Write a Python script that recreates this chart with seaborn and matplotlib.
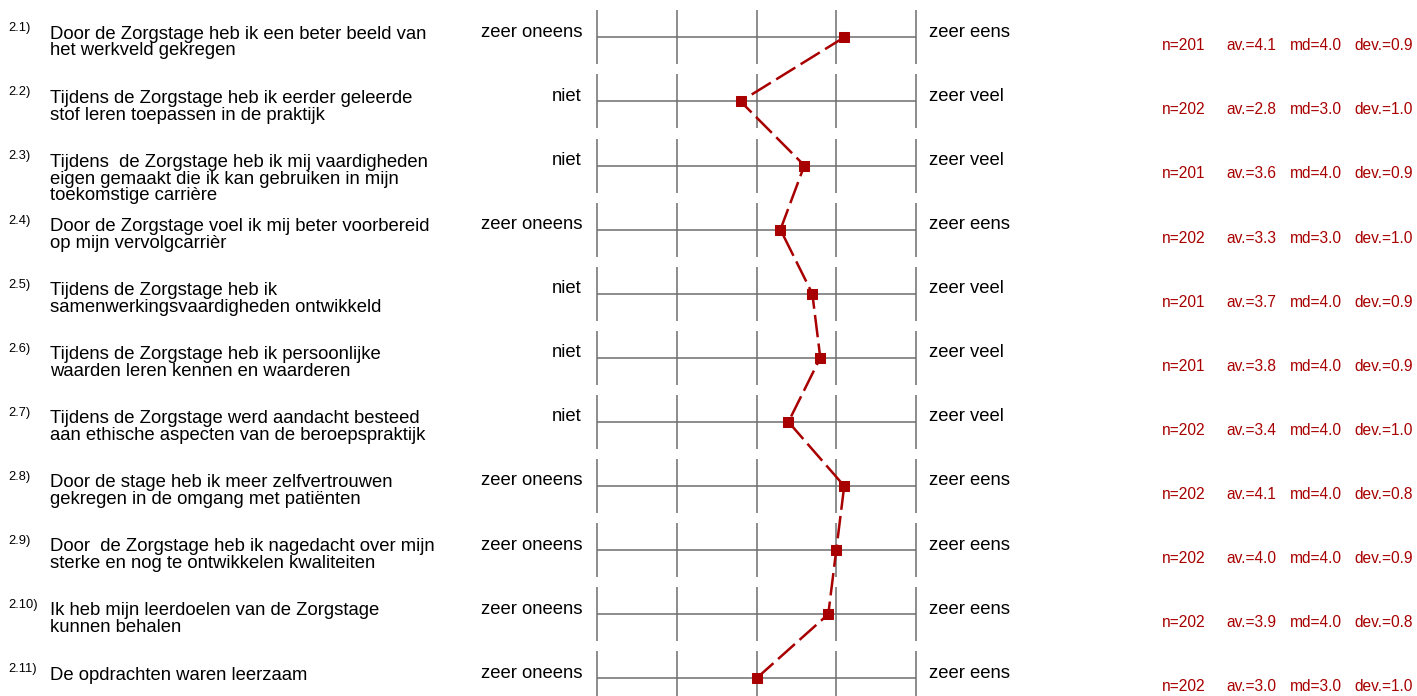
import pandas as pd
import matplotlib.pyplot as plt
import seaborn as sns

sns.set_theme(style="white")
plt.rcParams["font.family"] = ["Liberation Sans", "DejaVu Sans"]
plt.rcParams["text.color"] = "black"

RED = "#A80000"
GREY = "#6E6E6E"

# ------------------------------------------------------------------
# data
# ------------------------------------------------------------------
numbers = ["2.1)", "2.2)", "2.3)", "2.4)", "2.5)", "2.6)", "2.7)", "2.8)", "2.9)", "2.10)", "2.11)"]
questions = [
    "Door de Zorgstage heb ik een beter beeld van\nhet werkveld gekregen",
    "Tijdens de Zorgstage heb ik eerder geleerde\nstof leren toepassen in de praktijk",
    "Tijdens  de Zorgstage heb ik mij vaardigheden\neigen gemaakt die ik kan gebruiken in mijn\ntoekomstige carrière",
    "Door de Zorgstage voel ik mij beter voorbereid\nop mijn vervolgcarrièr",
    "Tijdens de Zorgstage heb ik\nsamenwerkingsvaardigheden ontwikkeld",
    "Tijdens de Zorgstage heb ik persoonlijke\nwaarden leren kennen en waarderen",
    "Tijdens de Zorgstage werd aandacht besteed\naan ethische aspecten van de beroepspraktijk",
    "Door de stage heb ik meer zelfvertrouwen\ngekregen in de omgang met patiënten",
    "Door  de Zorgstage heb ik nagedacht over mijn\nsterke en nog te ontwikkelen kwaliteiten",
    "Ik heb mijn leerdoelen van de Zorgstage\nkunnen behalen",
    "De opdrachten waren leerzaam",
]
left_anchor = ["zeer oneens", "niet", "niet", "zeer oneens", "niet", "niet", "niet",
               "zeer oneens", "zeer oneens", "zeer oneens", "zeer oneens"]
right_anchor = ["zeer eens", "zeer veel", "zeer veel", "zeer eens", "zeer veel", "zeer veel", "zeer veel",
                "zeer eens", "zeer eens", "zeer eens", "zeer eens"]
n_resp = [201, 202, 201, 202, 201, 201, 202, 202, 202, 202, 202]
av = [4.1, 2.8, 3.6, 3.3, 3.7, 3.8, 3.4, 4.1, 4.0, 3.9, 3.0]
md = [4.0, 3.0, 4.0, 3.0, 4.0, 4.0, 4.0, 4.0, 4.0, 4.0, 3.0]
dev = [0.9, 1.0, 0.9, 1.0, 0.9, 0.9, 1.0, 0.8, 0.9, 0.8, 1.0]
scale_points = [1, 2, 3, 4, 5]

df = pd.DataFrame({"row": range(len(av)), "av": av})

# ------------------------------------------------------------------
# layout: one axes over the whole figure, x in scale units, y in rows
# ------------------------------------------------------------------
W, H = 1417, 696
X0, XU = 597, 79.75      # pixel of scale point 1, pixels per scale unit
Y0, YU = 37.3, 64.1      # pixel of first row, pixels per row


def sx(px):
    return 1 + (px - X0) / XU


fig = plt.figure(figsize=(W / 100, H / 100), dpi=100)
ax = fig.add_axes([0, 0, 1, 1])

half = 27 / YU
for i in df["row"]:
    ax.hlines(i, 1, 5, color=GREY, lw=1.1, zorder=1)
    ax.vlines(scale_points, i - half, i + half, color=GREY, lw=1.1, zorder=1)

sns.lineplot(data=df, x="av", y="row", sort=False, estimator=None, ax=ax,
             color=RED, lw=1.8, ls=(0, (9, 2.5)), marker="s", ms=6.5,
             mec=RED, mfc=RED, zorder=3)
ax.set_xlim(sx(0), sx(W))
ax.set_ylim((H - Y0) / YU, -Y0 / YU)
ax.axis("off")

for i in df["row"]:
    ax.text(sx(8), i - 6 / YU, numbers[i], fontsize=9.3, va="baseline", ha="left")
    for k, line in enumerate(questions[i].split("\n")):
        ax.text(sx(50), i + (1.3 + 16.8 * k) / YU, line, fontsize=13.3, va="baseline", ha="left")
    ax.text(sx(582), i - 0.5 / YU, left_anchor[i], fontsize=13.3, va="baseline", ha="right")
    ax.text(sx(929), i - 0.5 / YU, right_anchor[i], fontsize=13.3, va="baseline", ha="left")
    yb = i + 13 / YU
    ax.text(sx(1162), yb, f"n={n_resp[i]}", fontsize=11.2, color=RED, va="baseline")
    ax.text(sx(1226), yb, f"av.={av[i]:.1f}", fontsize=11.2, color=RED, va="baseline")
    ax.text(sx(1290), yb, f"md={md[i]:.1f}", fontsize=11.2, color=RED, va="baseline")
    ax.text(sx(1354), yb, f"dev.={dev[i]:.1f}", fontsize=11.2, color=RED, va="baseline")

fig.savefig("out.png", dpi=100)
